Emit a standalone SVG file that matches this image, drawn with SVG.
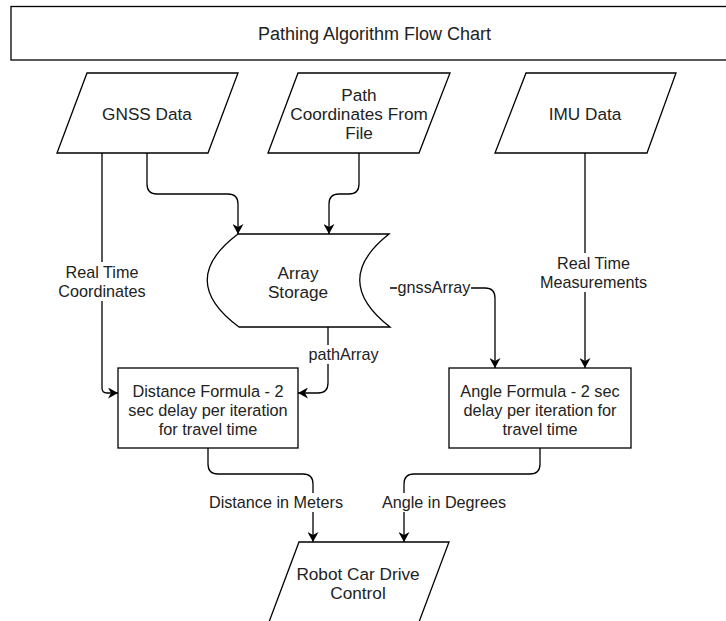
<svg xmlns="http://www.w3.org/2000/svg" width="726" height="621" viewBox="0 0 726 621">
<style>
.shape{fill:#fff;stroke:#000;stroke-width:1.3}
.edge{fill:none;stroke:#000;stroke-width:1.3}
.t{font-family:"Liberation Sans",Arial,sans-serif;fill:#222;text-anchor:middle}
.big{font-size:17.2px}
.box{font-size:16.3px}
.lbl{font-size:16.2px}
.bg{fill:#fff;stroke:none}
</style>
<defs>
<marker id="arr" viewBox="0 0 10 11" refX="10" refY="5.5" markerWidth="10" markerHeight="11" markerUnits="userSpaceOnUse" orient="auto">
<path d="M0,0 L10,5.5 L0,11 L3,5.5 Z" fill="#000"/>
</marker>
</defs>
<rect width="726" height="621" fill="#fff"/>
<g id="title">
<rect class="shape" x="11" y="6.5" width="728" height="53.5"/>
<text class="t" x="374.5" y="40" style="font-size:18px">Pathing Algorithm Flow Chart</text>
</g>
<g id="connectors">
<path class="edge" d="M147,153 V184 Q147,194 157,194 H228 Q238,194 238,204 V234" marker-end="url(#arr)"/>
<path class="edge" d="M359,153 V184 Q359,194 349,194 H339 Q329,194 329,204 V234" marker-end="url(#arr)"/>
<path class="edge" d="M102,153 V388 Q102,393 107,393 H118" marker-end="url(#arr)"/>
<path class="edge" d="M328,327 V383 Q328,393 318,393 H298" marker-end="url(#arr)"/>
<path class="edge" d="M390,288 H485 Q495,288 495,298 V368" marker-end="url(#arr)"/>
<path class="edge" d="M585,153 V368" marker-end="url(#arr)"/>
<path class="edge" d="M208,448 V464 Q208,474 218,474 H303 Q313,474 313,484 V542" marker-end="url(#arr)"/>
<path class="edge" d="M540,448 V464 Q540,474 530,474 H414 Q404,474 404,484 V542" marker-end="url(#arr)"/>
<rect class="bg" x="55" y="262" width="94" height="39"/>
<text class="t lbl" x="102" y="277.5">Real Time</text>
<text class="t lbl" x="102" y="296.5">Coordinates</text>
<rect class="bg" x="307" y="345" width="73" height="19"/>
<text class="t lbl" x="343.5" y="360">pathArray</text>
<rect class="bg" x="397" y="280" width="74" height="18"/>
<text class="t lbl" x="434" y="293">gnssArray</text>
<rect class="bg" x="537" y="253" width="113" height="39"/>
<text class="t lbl" x="593.5" y="268.5">Real Time</text>
<text class="t lbl" x="593.5" y="287.5">Measurements</text>
<rect class="bg" x="206" y="493" width="140" height="19"/>
<text class="t lbl" x="276" y="508">Distance in Meters</text>
<rect class="bg" x="379" y="493" width="130" height="19"/>
<text class="t lbl" x="444" y="508">Angle in Degrees</text>
</g>
<g id="gnss">
<path class="shape" d="M87,73 H238 L208,153 H57 Z"/>
<text class="t big" x="147" y="120">GNSS Data</text>
</g>
<g id="pathfile">
<path class="shape" d="M298,73 H450 L419,153 H268 Z"/>
<text class="t big" x="359" y="101">Path</text>
<text class="t big" x="359" y="120">Coordinates From</text>
<text class="t big" x="359" y="139">File</text>
</g>
<g id="imu">
<path class="shape" d="M526,73 H676 L647,153 H495 Z"/>
<text class="t big" x="585" y="120">IMU Data</text>
</g>
<g id="storage">
<path class="shape" d="M238,234 H389 Q330,280.5 390,327 H239 Q176,280.5 238,234 Z"/>
<text class="t big" x="298" y="278.5">Array</text>
<text class="t big" x="298" y="297.5">Storage</text>
</g>
<g id="distance">
<rect class="shape" x="118" y="368" width="180" height="80"/>
<text class="t box" x="208" y="396.5">Distance Formula - 2</text>
<text class="t box" x="208" y="415.5">sec delay per iteration</text>
<text class="t box" x="208" y="434.5">for travel time</text>
</g>
<g id="angle">
<rect class="shape" x="449" y="368" width="182" height="80"/>
<text class="t box" x="540" y="396.5">Angle Formula - 2 sec</text>
<text class="t box" x="540" y="415.5">delay per iteration for</text>
<text class="t box" x="540" y="434.5">travel time</text>
</g>
<g id="robot">
<path class="shape" d="M299,542 H449 L419,622 H269 Z"/>
<text class="t big" x="358" y="579.5">Robot Car Drive</text>
<text class="t big" x="358" y="598.5">Control</text>
</g>
</svg>
